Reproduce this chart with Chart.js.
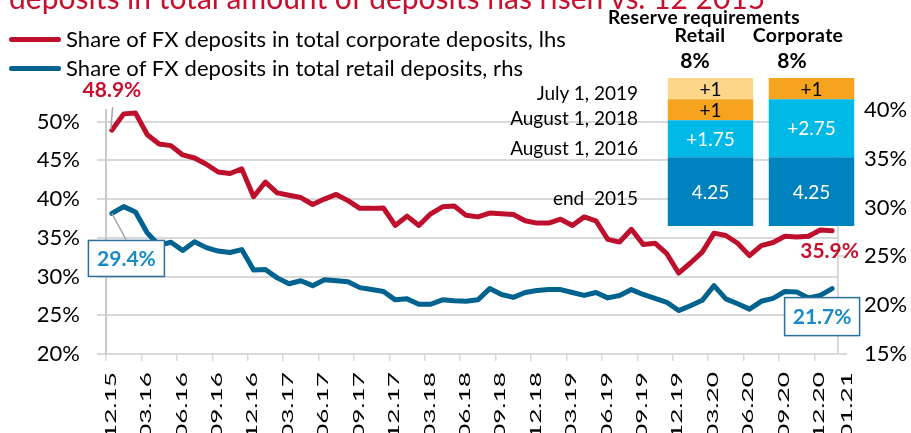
<!DOCTYPE html>
<html>
<head>
<meta charset="utf-8">
<script src="https://cdn.jsdelivr.net/npm/chart.js@4.4.0/dist/chart.umd.min.js"></script>
<style>
  body { margin: 0; background: #fff; overflow: hidden; }
  #wrap { position: relative; width: 911px; height: 433px; overflow: hidden; font-family: Lato, sans-serif; color: #000; }
  canvas { position: absolute; }
  .t { position: absolute; white-space: pre; line-height: 1; }
  .c { transform: translate(-50%, -50%); }
  .l { transform: translate(0, -50%); }
  .r { transform: translate(-100%, -50%); }
  .b { font-weight: bold; }
  .key { position: absolute; left: 9px; width: 52px; height: 5px; border-radius: 3px; }
</style>
</head>
<body>
<div id="wrap">
  <canvas id="fxChart" width="911" height="433" style="left:0;top:0"></canvas>
  <canvas id="reserveChart" width="202" height="148" style="left:660px;top:78px"></canvas>

  <div class="t" style="left:9px;top:-18px;font-size:30px;color:#C8102E">deposits in total amount of deposits has risen vs. 12 2015</div>

  <div class="key" style="top:37px;background:#BE0F2C"></div>
  <div class="t l" style="left:66px;top:39px;font-size:22px;letter-spacing:0.1px">Share of FX deposits in total corporate deposits, lhs</div>
  <div class="key" style="top:66px;background:#00628F"></div>
  <div class="t l" style="left:66px;top:68px;font-size:22px;letter-spacing:0.1px">Share of FX deposits in total retail deposits, rhs</div>

  <div class="t c b" style="left:704px;top:16px;font-size:19px;letter-spacing:0.4px">Reserve requirements</div>
  <div id="reserveHeads"></div>
  <div id="reserveRows"></div>
</div>

<script>
// monthly observations, Dec 2015 .. Jan 2021
const months = [
  '12.15',
  '01.16','02.16','03.16','04.16','05.16','06.16','07.16','08.16','09.16','10.16','11.16','12.16',
  '01.17','02.17','03.17','04.17','05.17','06.17','07.17','08.17','09.17','10.17','11.17','12.17',
  '01.18','02.18','03.18','04.18','05.18','06.18','07.18','08.18','09.18','10.18','11.18','12.18',
  '01.19','02.19','03.19','04.19','05.19','06.19','07.19','08.19','09.19','10.19','11.19','12.19',
  '01.20','02.20','03.20','04.20','05.20','06.20','07.20','08.20','09.20','10.20','11.20','12.20',
  '01.21'
];
const tickMonths = ['12.15','03.16','06.16','09.16','12.16','03.17','06.17','09.17','12.17',
  '03.18','06.18','09.18','12.18','03.19','06.19','09.19','12.19','03.20','06.20','09.20','12.20'];
const lastMonth = '01.21';

// share of FX deposits, %
const corporateShare = [
  48.9,
  51.0, 51.1, 48.3, 47.1, 46.9, 45.7, 45.3, 44.5, 43.5, 43.3, 43.9, 40.3,
  42.2, 40.8, 40.5, 40.2, 39.3, 40.0, 40.6, 39.8, 38.8, 38.8, 38.85, 36.6,
  37.8, 36.6, 38.1, 39.0, 39.1, 37.9, 37.7, 38.2, 38.1, 38.0, 37.2, 36.9,
  36.9, 37.4, 36.6, 37.7, 37.2, 34.8, 34.45, 36.1, 34.15, 34.3, 32.95, 30.45,
  31.75, 33.15, 35.6, 35.3, 34.3, 32.7, 34.0, 34.4, 35.2, 35.1, 35.2, 36.0,
  35.9
];
const retailShare = [
  29.4,
  30.1, 29.55, 27.4, 26.15, 26.45, 25.6, 26.5, 25.9, 25.55, 25.4, 25.7, 23.6,
  23.65, 22.8, 22.2, 22.5, 22.0, 22.6, 22.5, 22.4, 21.8, 21.6, 21.4, 20.55,
  20.65, 20.1, 20.1, 20.55, 20.45, 20.4, 20.55, 21.7, 21.1, 20.8, 21.3, 21.5,
  21.6, 21.6, 21.3, 21.0, 21.3, 20.75, 21.0, 21.6, 21.1, 20.7, 20.3, 19.45,
  19.95, 20.5, 22.0, 20.65, 20.15, 19.6, 20.4, 20.7, 21.4, 21.35, 20.75, 21.0,
  21.7
];
const leftTicks = [20, 25, 30, 35, 40, 45, 50];
const rightTicks = [15, 20, 25, 30, 35, 40];

// reserve requirement steps, pp
const reserveGroups = ['Retail', 'Corporate'];
const reserveTotals = ['8%', '8%'];
const reserveEnd2015 = [4.25, 4.25];
const reserveAug2016 = [1.75, 2.75];
const reserveAug2018 = [1, null];
const reserveJul2019 = [1, 1];
const reserveDates = ['end  2015', 'August 1, 2016', 'August 1, 2018', 'July 1, 2019'];

const RED = '#BE0F2C';
const BLUE = '#00628F';
const GRID = '#d9d9d9';

const valueLabels = {
  id: 'valueLabels',
  afterDatasetsDraw(chart) {
    const ctx = chart.ctx;
    const red = chart.getDatasetMeta(0).data;
    const blue = chart.getDatasetMeta(1).data;
    const n = months.length - 1;
    const fmt = v => v.toFixed(1) + '%';

    ctx.save();
    ctx.strokeStyle = '#a6a6a6';
    ctx.lineWidth = 1.5;
    ctx.beginPath();
    ctx.moveTo(red[0].x + 0.7, red[0].y - 23);
    ctx.lineTo(red[0].x - 1, red[0].y - 1);
    ctx.moveTo(blue[0].x, blue[0].y);
    ctx.lineTo(blue[0].x + 14, blue[0].y + 26);
    ctx.stroke();

    ctx.font = 'bold 21px Lato';
    ctx.textAlign = 'center';
    ctx.textBaseline = 'middle';

    ctx.fillStyle = '#C8102E';
    ctx.fillText(fmt(corporateShare[0]), red[0].x, red[0].y - 40);
    ctx.fillText(fmt(corporateShare[n]), red[n].x - 2.5, red[n].y + 20);

    // boxed labels for the retail series
    const box = (text, left, top, w, h) => {
      ctx.fillStyle = '#fff';
      ctx.fillRect(left, top, w, h);
      ctx.strokeStyle = '#2A6F9A';
      ctx.lineWidth = 1.5;
      ctx.strokeRect(left, top, w, h);
      ctx.fillStyle = '#1A8AC6';
      ctx.fillText(text, left + w / 2, top + h / 2 + 1);
    };
    box(fmt(retailShare[0]), blue[0].x - 23.5, blue[0].y + 27, 76, 36);
    box(fmt(retailShare[n]), blue[n].x - 47.5, blue[n].y + 9, 75, 38);
    ctx.restore();
  }
};

const monthLabels = {
  id: 'monthLabels',
  afterDraw(chart) {
    const ctx = chart.ctx;
    const x = chart.scales.x;
    ctx.save();
    ctx.font = '15px Lato';
    ctx.fillStyle = '#000';
    ctx.textAlign = 'right';
    ctx.textBaseline = 'middle';
    const put = (text, px) => {
      ctx.save();
      ctx.translate(px, 372);
      ctx.rotate(-Math.PI / 2);
      ctx.scale(1.75, 1);
      ctx.fillText(text, 0, 0);
      ctx.restore();
    };
    tickMonths.forEach(m => put(m, x.getPixelForValue(months.indexOf(m)) - 1));
    put(lastMonth, x.getPixelForValue(months.indexOf(lastMonth)) + 15);
    ctx.restore();
  }
};

new Chart(document.getElementById('fxChart'), {
  type: 'line',
  data: {
    labels: months,
    datasets: [
      {
        label: 'Share of FX deposits in total corporate deposits, lhs',
        data: corporateShare,
        yAxisID: 'y',
        borderColor: RED,
        borderWidth: 5,
        pointRadius: 0,
        borderJoinStyle: 'round',
        borderCapStyle: 'round',
        tension: 0
      },
      {
        label: 'Share of FX deposits in total retail deposits, rhs',
        data: retailShare,
        yAxisID: 'y2',
        borderColor: BLUE,
        borderWidth: 5,
        pointRadius: 0,
        borderJoinStyle: 'round',
        borderCapStyle: 'round',
        tension: 0
      }
    ]
  },
  options: {
    responsive: false,
    animation: false,
    devicePixelRatio: 1,
    layout: { padding: { top: 110, left: 0, right: 0, bottom: 0 } },
    plugins: { legend: { display: false }, tooltip: { enabled: false } },
    scales: {
      x: {
        offset: true,
        ticks: { display: false, autoSkip: false },
        grid: {
          offset: true,
          drawOnChartArea: false,
          tickLength: 7,
          lineWidth: 1.5,
          color: c => (c.index % 3 === 0 ? GRID : 'transparent')
        },
        border: { color: GRID, width: 2 },
        afterFit: s => { s.height = 79; }
      },
      y: {
        position: 'left',
        min: 20,
        max: 51.5,
        afterBuildTicks: s => { s.ticks = leftTicks.map(v => ({ value: v })); },
        ticks: { font: { family: 'Lato', size: 22 }, color: '#000', padding: 17, callback: v => v + '%' },
        grid: { color: GRID, lineWidth: 2, tickLength: 9 },
        border: { color: '#c9c9c9', width: 2 },
        afterFit: s => { s.width = 106; }
      },
      y2: {
        position: 'right',
        min: 15,
        max: 40,
        afterBuildTicks: s => { s.ticks = rightTicks.map(v => ({ value: v })); },
        ticks: { font: { family: 'Lato', size: 22 }, color: '#000', padding: 17, callback: v => v + '%' },
        grid: { drawOnChartArea: false, color: GRID, lineWidth: 2, tickLength: 9 },
        border: { color: GRID, width: 2 },
        afterFit: s => { s.width = 73; }
      }
    }
  },
  plugins: [valueLabels, monthLabels]
});

// inset: reserve requirement build-up
const segmentLabels = {
  id: 'segmentLabels',
  afterDatasetsDraw(chart) {
    const { ctx, chartArea } = chart;
    ctx.save();
    ctx.font = '19px Lato';
    ctx.textAlign = 'center';
    ctx.textBaseline = 'middle';
    chart.data.datasets.forEach((ds, di) => {
      chart.getDatasetMeta(di).data.forEach((bar, i) => {
        const v = ds.data[i];
        if (!v) return;
        const top = Math.max(bar.y, chartArea.top);
        const bottom = Math.min(bar.base, chartArea.bottom);
        ctx.fillStyle = di < 2 ? '#fff' : '#000';
        ctx.fillText((di === 0 ? '' : '+') + v, bar.x, (top + bottom) / 2 + 1);
      });
    });
    ctx.restore();
  }
};

new Chart(document.getElementById('reserveChart'), {
  type: 'bar',
  data: {
    labels: reserveGroups,
    datasets: [
      { label: reserveDates[0], data: reserveEnd2015, backgroundColor: '#0082BE' },
      { label: reserveDates[1], data: reserveAug2016, backgroundColor: '#00B9E6' },
      { label: reserveDates[2], data: reserveAug2018, backgroundColor: '#F6A41E' },
      { label: reserveDates[3], data: reserveJul2019, backgroundColor: ['#FDD68A', '#F6A41E'] }
    ]
  },
  options: {
    responsive: false,
    animation: false,
    devicePixelRatio: 1,
    layout: { padding: 0 },
    plugins: { legend: { display: false }, tooltip: { enabled: false } },
    datasets: { bar: { categoryPercentage: 1, barPercentage: 0.846, clip: 0 } },
    scales: {
      x: { stacked: true, display: false },
      y: { stacked: true, display: false, min: 1, max: 8 }
    }
  },
  plugins: [segmentLabels]
});

// headers above the inset bars and the date captions to their left
const heads = document.getElementById('reserveHeads');
const headX = [700, 798];
const totalX = [695, 792];
reserveGroups.forEach((g, i) => {
  heads.insertAdjacentHTML('beforeend',
    `<div class="t c b" style="left:${headX[i]}px;top:34.5px;font-size:19.5px;letter-spacing:0.3px">${g}</div>` +
    `<div class="t c b" style="left:${totalX[i]}px;top:59px;font-size:21px">${reserveTotals[i]}</div>`);
});
const rows = document.getElementById('reserveRows');
const rowY = [197.3, 146.7, 116.7, 91.7];
reserveDates.forEach((d, i) => {
  rows.insertAdjacentHTML('beforeend',
    `<div class="t r" style="left:638px;top:${rowY[i]}px;font-size:19px">${d}</div>`);
});
</script>
</body>
</html>
